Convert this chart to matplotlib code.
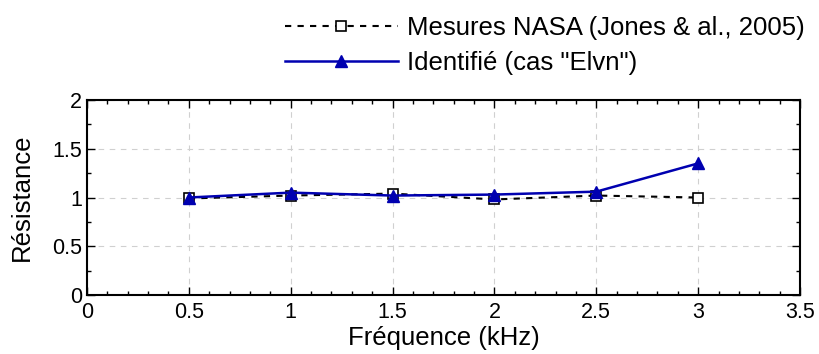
import matplotlib.pyplot as plt
from matplotlib.ticker import MultipleLocator

plt.rcParams['font.family'] = ['Liberation Sans', 'DejaVu Sans']

freq = [0.5, 1.0, 1.5, 2.0, 2.5, 3.0]
nasa = [0.99, 1.02, 1.04, 0.98, 1.02, 1.00]
ident = [1.00, 1.05, 1.02, 1.03, 1.06, 1.35]

label_nasa = 'Mesures NASA (Jones & al., 2005)'
label_ident = 'Identifié (cas "Elvn")'

fig = plt.figure(figsize=(8.19, 3.54), dpi=100)
ax = fig.add_axes([87 / 819, 1 - 295 / 354, 713 / 819, 195 / 354])

ax.plot(freq, nasa, linestyle='--', color='black', linewidth=1.5,
        marker='s', markersize=7.5, markerfacecolor='white', markeredgecolor='black',
        markeredgewidth=1.2, label=label_nasa, dashes=(3, 3))
ax.plot(freq, ident, linestyle='-', color='#0000b0', linewidth=1.8,
        marker='^', markersize=8, markerfacecolor='#0000b0', markeredgecolor='#0000b0',
        label=label_ident)

ax.set_xlim(0, 3.5)
ax.set_ylim(0, 2)
ax.xaxis.set_major_locator(MultipleLocator(0.5))
ax.xaxis.set_minor_locator(MultipleLocator(0.1))
ax.yaxis.set_major_locator(MultipleLocator(0.5))
ax.yaxis.set_minor_locator(MultipleLocator(0.25))
ax.xaxis.set_major_formatter(plt.FuncFormatter(lambda v, p: f'{v:g}'))
ax.yaxis.set_major_formatter(plt.FuncFormatter(lambda v, p: f'{v:g}'))
ax.tick_params(which='both', direction='in', top=True, right=True, labelsize=15.5, width=1)
ax.tick_params(which='major', length=6)
ax.tick_params(which='minor', length=3)
ax.tick_params(axis='x', pad=5)
ax.grid(True, which='major', linestyle=(0, (5, 5)), color='#d0d0d0', linewidth=0.8)
for s in ax.spines.values():
    s.set_linewidth(1.5)

ax.set_xlabel('Fréquence (kHz)', fontsize=18.5, labelpad=2)
ax.set_ylabel('Résistance', fontsize=18.5, labelpad=13)

ax.legend(loc='lower right', bbox_to_anchor=(1.026, 1.055), frameon=False, fontsize=18.5,
          handlelength=4.4, handletextpad=0.35, labelspacing=0.45, borderaxespad=0.15)

fig.savefig('out.png', dpi=100)
